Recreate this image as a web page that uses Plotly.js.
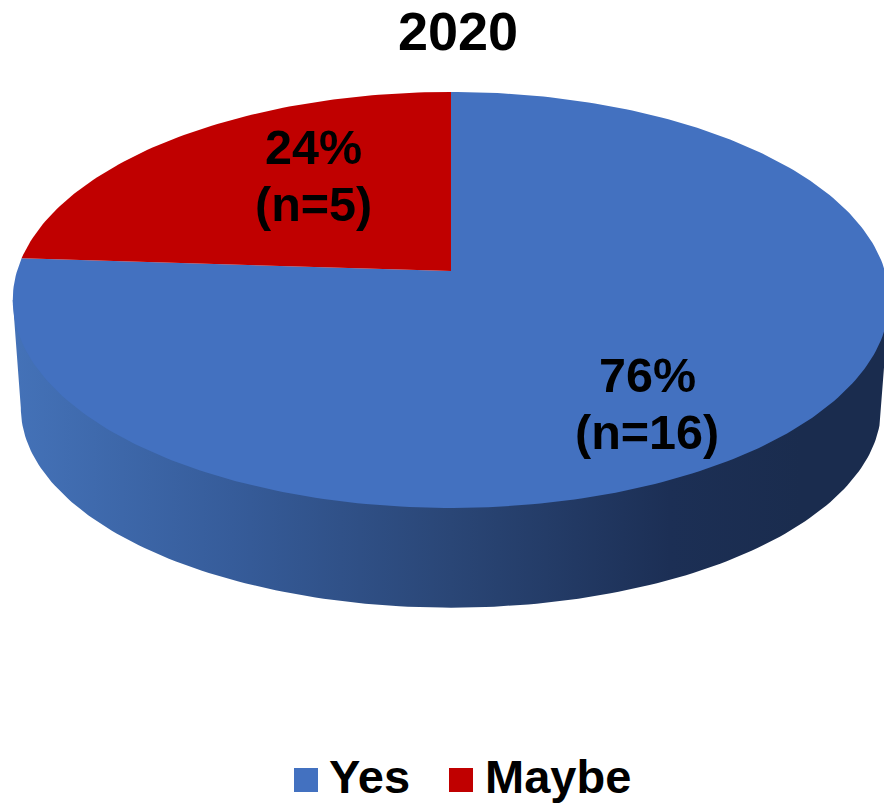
<!DOCTYPE html>
<html><head><meta charset="utf-8">
<script src="https://cdn.plot.ly/plotly-3.0.1.min.js"></script>
<style>html,body{margin:0;padding:0;background:#fff;overflow:hidden}#c{width:884px;height:803px}</style>
</head><body><div id="c"></div>
<script>
const chartTitle = '2020';
const categories = ['Yes', 'Maybe'];
const percents = [76, 24];
const counts = [16, 5];
const colors = ['#4371C0', '#C00000'];
const sideGradient = [[0,'#4472B8'],[0.25,'#365C9A'],[0.5,'#2A4676'],[0.75,'#1C2F55'],[0.9,'#1A2C4E'],[1,'#1A2C4E']];

const FONT = '"Liberation Sans", Arial, sans-serif';
// Perspective view of the disc: top face and bottom rim
const top_ = {cx:451, cy:271, a:204, b:434, k:0.139};
const rim  = {cx:451, cy:380, a:196, b:426, k:0.139};
function project(p, deg){
  const t = deg*Math.PI/180, u = Math.sin(t), v = Math.cos(t), w = 1 + p.k*v;
  return [p.cx + p.b*u/w, p.cy - p.a*v/w];
}
function arc(p, from, to){
  const n = Math.max(2, Math.ceil(Math.abs(to-from)));
  const pts = [];
  for(let i=0;i<=n;i++) pts.push(project(p, from + (to-from)*i/n));
  return pts;
}
function wedge(from, to){
  const pts = [[top_.cx, top_.cy]].concat(arc(top_, from, to));
  pts.push([top_.cx, top_.cy]);
  return pts;
}
const total = percents.reduce((a,b)=>a+b,0);
const traces = [];

// side wall: silhouette of the top face's widest points joined through the lower rim
const leftDeg = 262, rightDeg = 98;
const side = [project(top_, rightDeg)].concat(arc(rim, rightDeg, leftDeg)).concat([project(top_, leftDeg)]);
traces.push({type:'scatter', mode:'lines', x:side.map(p=>p[0]), y:side.map(p=>p[1]),
  fill:'toself', fillgradient:{type:'horizontal', colorscale:sideGradient},
  line:{width:0}, hoverinfo:'skip', showlegend:false});

// top face wedges
let start = 0;
categories.forEach((c,i)=>{
  const sweep = 360*percents[i]/total;
  const pts = wedge(start, start+sweep);
  traces.push({type:'scatter', mode:'lines', name:c, x:pts.map(p=>p[0]), y:pts.map(p=>p[1]),
    fill:'toself', fillcolor:colors[i], line:{width:0}, hoverinfo:'name', showlegend:false});
  start += sweep;
});

// legend swatches and names
const legendX = [306, 461], legendTextX = [330, 486], legendY = 780, legendTextY = 776;
const annotations = [];
categories.forEach((c,i)=>{
  traces.push({type:'scatter', mode:'markers', x:[legendX[i]], y:[legendY], cliponaxis:false,
    marker:{symbol:'square', size:24, color:colors[i]}, hoverinfo:'skip', showlegend:false});
  annotations.push({x:legendTextX[i], y:legendTextY, xref:'x', yref:'y', text:'<b>'+c+'</b>', showarrow:false,
    xanchor:'left', yanchor:'middle', xshift:-3, font:{family:FONT, size:47, color:'#000'}});
});

// data labels
const labelPos = [{x:647, y1:375, y2:432}, {x:313, y1:147, y2:204}];
categories.forEach((c,i)=>{
  [[percents[i]+'%', labelPos[i].y1], ['(n='+counts[i]+')', labelPos[i].y2]].forEach(([t,y])=>{
    annotations.push({x:labelPos[i].x, y:y, xref:'x', yref:'y', text:'<b>'+t+'</b>', showarrow:false,
      xanchor:'center', yanchor:'middle', font:{family:FONT, size:48.5, color:'#000'}});
  });
});

Plotly.newPlot('c', traces, {
  width:884, height:803, margin:{l:0,r:0,t:0,b:0,pad:0},
  paper_bgcolor:'#fff', plot_bgcolor:'#fff', showlegend:false,
  title:{text:'<b>'+chartTitle+'</b>', font:{family:FONT, size:54, color:'#000'},
    x:458/884, xanchor:'center', xref:'paper', y:1-31/803, yanchor:'middle', yref:'container'},
  xaxis:{range:[0,884], visible:false, fixedrange:true},
  yaxis:{range:[803,0], visible:false, fixedrange:true},
  annotations:annotations
}, {displayModeBar:false, staticPlot:true});
</script></body></html>
